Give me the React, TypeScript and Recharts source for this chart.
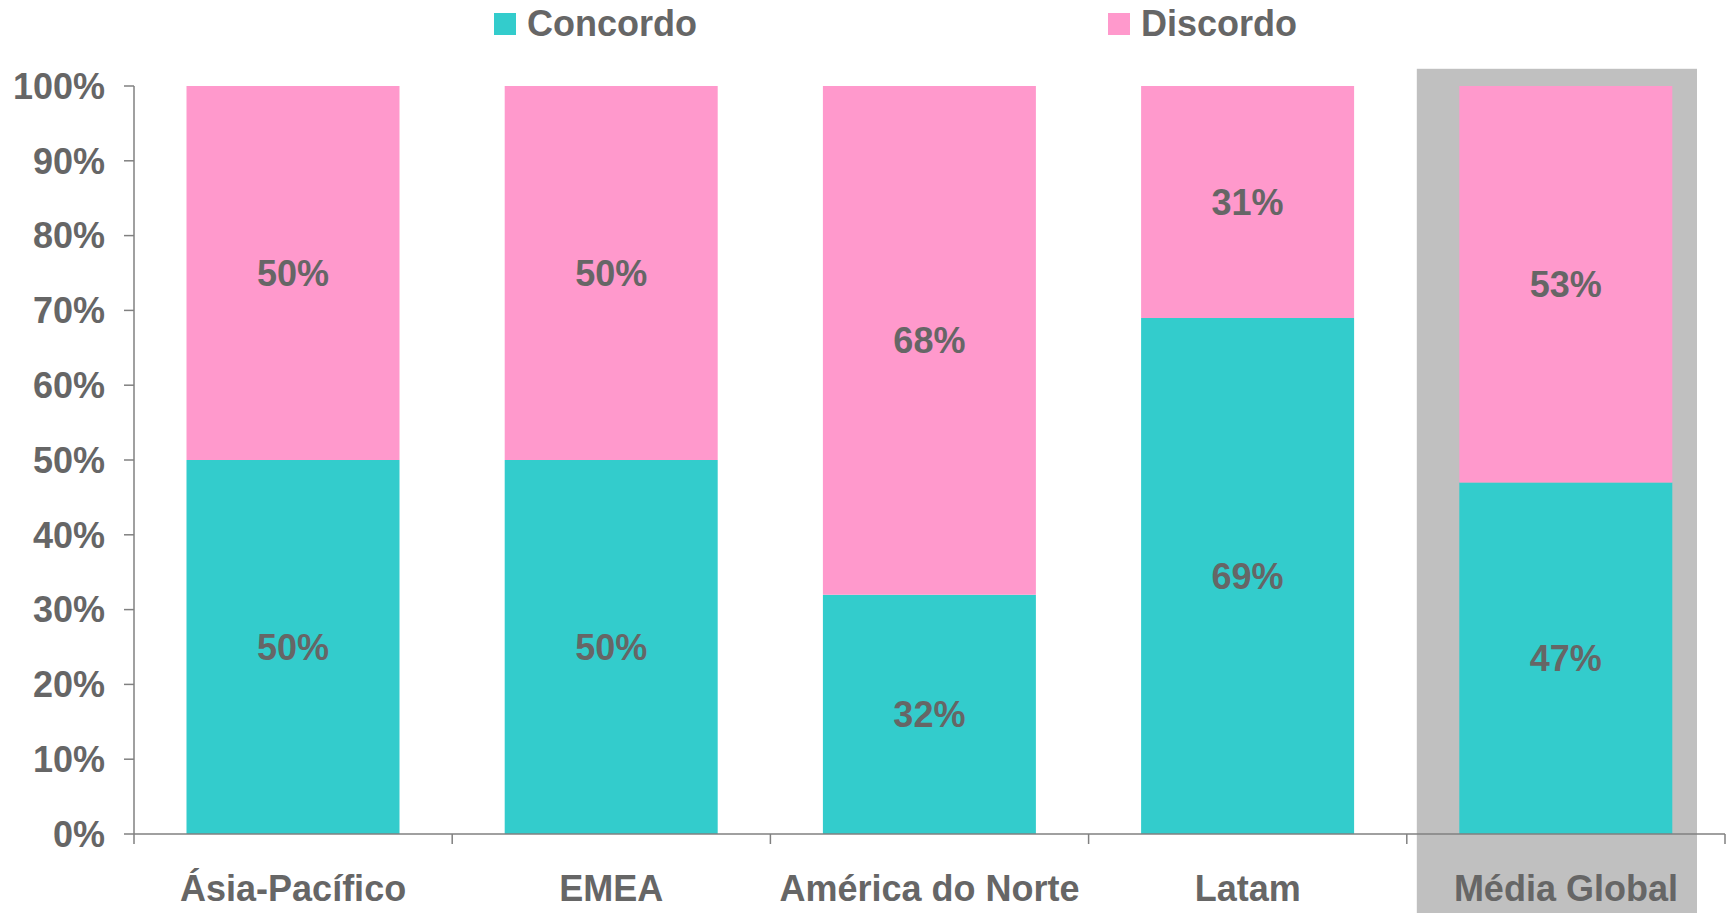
import { BarChart, Bar, XAxis, YAxis, Legend, LabelList, ReferenceArea } from 'recharts';

const regions = ['Ásia-Pacífico', 'EMEA', 'América do Norte', 'Latam', 'Média Global'];
const concordo = [50, 50, 32, 69, 47];
const discordo = [50, 50, 68, 31, 53];
const yTicks = [0, 10, 20, 30, 40, 50, 60, 70, 80, 90, 100];

const TEAL = '#33CCCC';
const PINK = '#FF99CC';
const HIGHLIGHT = '#C0C0C0';
const AXIS = '#808080';
const TEXT = '#666666';
const FONT = '"Liberation Sans", Arial, Helvetica, sans-serif';

const data = regions.map((region, i) => ({
  region,
  concordo: concordo[i],
  discordo: discordo[i],
}));

function CategoryTick(props: any) {
  const { x, y, payload, index, visibleTicksCount } = props;
  const half = payload?.offset ?? 159;
  return (
    <g>
      <line x1={x - half} x2={x - half} y1={y} y2={y + 10} stroke={AXIS} strokeWidth={1.5} />
      {index === visibleTicksCount - 1 && (
        <line x1={x + half} x2={x + half} y1={y} y2={y + 10} stroke={AXIS} strokeWidth={1.5} />
      )}
      <text x={x} y={y + 67} textAnchor="middle" fill={TEXT} fontSize={36} fontWeight="bold">
        {payload.value}
      </text>
    </g>
  );
}

function HighlightShape(props: any) {
  const { x, y, width, height } = props;
  return <rect x={x + 10} y={y} width={width - 38} height={height} fill={HIGHLIGHT} />;
}

function LegendContent(props: any) {
  const items = props.payload ?? [];
  const lefts = [494, 1108];
  return (
    <div style={{ position: 'relative', height: 48 }}>
      {items.map((item: any, i: number) => (
        <div
          key={item.value}
          style={{
            position: 'absolute',
            left: lefts[i],
            top: 0,
            height: 48,
            display: 'flex',
            alignItems: 'center',
            fontFamily: FONT,
            fontSize: 36,
            fontWeight: 'bold',
            color: TEXT,
          }}
        >
          <span style={{ width: 22, height: 22, background: item.color, marginRight: 11, display: 'inline-block' }} />
          <span>{item.value}</span>
        </div>
      ))}
    </div>
  );
}

export default function App() {
  return (
    <div style={{ position: 'absolute', left: 0, top: 0, fontFamily: FONT }}>
      <BarChart
        width={1728}
        height={913}
        data={data}
        margin={{ top: 86, right: 3, bottom: 0, left: 0 }}
        barCategoryGap="16.5%"
      >
        <ReferenceArea
          x1="Média Global"
          x2="Média Global"
          y1={-10.6}
          y2={102.3}
          ifOverflow="visible"
          shape={<HighlightShape />}
        />
        <XAxis
          dataKey="region"
          height={79}
          stroke={AXIS}
          strokeWidth={1.5}
          tickLine={false}
          tickSize={0}
          tickMargin={0}
          interval={0}
          tick={<CategoryTick />}
        />
        <YAxis
          width={134}
          domain={[0, 100]}
          ticks={yTicks}
          interval={0}
          stroke={AXIS}
          strokeWidth={1.5}
          tickSize={10}
          tickMargin={19}
          tickFormatter={(v) => `${v}%`}
          tick={{ fill: TEXT, fontSize: 36, fontWeight: 'bold' }}
        />
        <Legend
          layout="horizontal"
          verticalAlign="middle"
          align="center"
          wrapperStyle={{ top: 0, left: 0, width: 1728 }}
          content={<LegendContent />}
        />
        <Bar dataKey="concordo" name="Concordo" stackId="a" fill={TEAL} isAnimationActive={false}>
          <LabelList
            dataKey="concordo"
            position="center"
            formatter={(v: any) => `${v}%`}
            fill={TEXT}
            fontSize={36}
            fontWeight="bold"
          />
        </Bar>
        <Bar dataKey="discordo" name="Discordo" stackId="a" fill={PINK} isAnimationActive={false}>
          <LabelList
            dataKey="discordo"
            position="center"
            formatter={(v: any) => `${v}%`}
            fill={TEXT}
            fontSize={36}
            fontWeight="bold"
          />
        </Bar>
      </BarChart>
    </div>
  );
}
